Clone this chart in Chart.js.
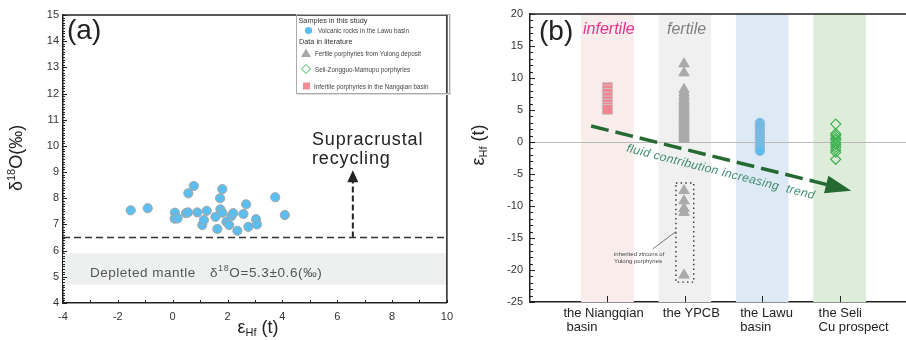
<!DOCTYPE html>
<html>
<head>
<meta charset="utf-8">
<script src="https://cdn.jsdelivr.net/npm/chart.js@4.4.1/dist/chart.umd.min.js"></script>
<style>
  html, body { margin: 0; padding: 0; background: #fff; overflow: hidden; width: 906px; height: 340px; }
  #chartA { position: absolute; left: 0; top: 0; }
  #chartB { position: absolute; left: 460px; top: 0; }
</style>
</head>
<body>
<canvas id="chartA" width="460" height="340"></canvas>
<canvas id="chartB" width="465" height="340"></canvas>
<script>
// ---- panel (a): Lawu volcanic rocks, eHf(t) vs d18O ----
const lawuHf = [-1.53, -0.91, 0.57, 0.77, 0.08, 0.07, 0.18, 0.48, 0.56, 0.90, 1.08, 1.14, 1.24, 1.56, 1.63,
                1.73, 1.81, 1.74, 1.81, 1.96, 2.06, 2.14, 2.21, 2.36, 2.58, 2.68, 2.76, 3.04, 3.07, 3.74, 4.09];
const lawuO  = [7.54, 7.62, 8.19, 8.47, 7.45, 7.22, 7.23, 7.43, 7.46, 7.46, 6.98, 7.17, 7.52, 7.29, 6.83,
                8.00, 8.35, 7.58, 7.45, 7.10, 6.98, 7.32, 7.43, 6.76, 7.40, 7.77, 6.91, 7.20, 7.00, 8.04, 7.36];
const mantleBand = [4.7, 5.9];        // 5.3 +/- 0.6
const mantleCutoff = 6.5;
const recyclingArrow = [6.57, 9.07];  // x, tip y

// ---- panel (b): eHf(t) by setting ----
const categories = [['the Niangqian', 'basin'], ['the YPCB'], ['the Lawu', 'basin'], ['the Seli', 'Cu prospect']];
const niangqianHf = [8.5, 8.1, 7.6, 7.0, 6.4, 5.9, 5.4, 5.1];
const yulongHf = [12.2, 10.8, 8.2, 7.7, 7.3, 6.9, 6.5, 6.2, 5.8, 5.5, 5.2, 4.9, 4.6, 4.3, 4.0, 3.7, 3.4,
                  3.1, 2.8, 2.5, 2.2, 1.9, 1.6, 1.3, 1.0, 0.7, 0.4];
const yulongInheritedHf = [-7.6, -9.2, -10.4, -11.0, -20.8];
const lawuGroupHf = [3.0, 2.6, 2.2, 1.8, 1.5, 1.2, 0.9, 0.6, 0.3, 0.0, -0.3, -0.6, -1.0, -1.4];
const seliHf = [2.8, 1.3, 1.0, 0.6, 0.3, -0.1, -0.4, -0.8, -1.2, -1.6, -2.7];
const trendStart = [0.79, 2.5];
const trendEnd = [4.15, -7.6];
const inheritedBox = [1.885, 2.115, -6.4, -21.9];
const leader = [[1.586, -16.7], [1.885, -14.0]];

const FONT = 'Liberation Sans, Arial, sans-serif';
Chart.defaults.font.family = FONT;
Chart.defaults.color = '#333';

function rich(ctx, parts, x, y, align, spacing) {
  // parts: [text, size, dy, style]
  ctx.letterSpacing = (spacing || 0) + 'px';
  let w = 0;
  parts.forEach(p => { ctx.font = (p[3] || '') + ' ' + p[1] + 'px ' + FONT; w += ctx.measureText(p[0]).width; });
  let cx = align === 'center' ? x - w / 2 : x;
  ctx.textAlign = 'left';
  parts.forEach(p => {
    ctx.font = (p[3] || '') + ' ' + p[1] + 'px ' + FONT;
    ctx.fillText(p[0], cx, y + (p[2] || 0));
    cx += ctx.measureText(p[0]).width;
  });
  ctx.letterSpacing = '0px';
}

function inwardTicksY(ctx, scale, area, from, to, step, len) {
  const n = Math.round((to - from) / step);
  for (let i = 0; i <= n; i++) {
    const y = Math.round(scale.getPixelForValue(from + i * step)) + 0.5;
    ctx.moveTo(area.left, y); ctx.lineTo(area.left + len, y);
  }
}
function inwardTicksX(ctx, scale, area, from, to, step, len) {
  const n = Math.round((to - from) / step);
  for (let i = 0; i <= n; i++) {
    const x = Math.round(scale.getPixelForValue(from + i * step)) + 0.5;
    ctx.moveTo(x, area.bottom); ctx.lineTo(x, area.bottom - len);
  }
}

// ---------------- panel (a) ----------------
const plotA = {
  id: 'plotA',
  beforeDatasetsDraw(chart) {
    const { ctx, chartArea: a, scales: { y } } = chart;
    ctx.save();
    ctx.fillStyle = 'rgb(238,240,240)';
    const top = y.getPixelForValue(mantleBand[1]), bot = y.getPixelForValue(mantleBand[0]);
    ctx.fillRect(a.left, top, a.right - a.left, bot - top);
    ctx.restore();
  },
  afterDraw(chart) {
    const { ctx, chartArea: a, scales: { x, y } } = chart;
    ctx.save();
    // frame top / right
    ctx.strokeStyle = '#222'; ctx.lineWidth = 1.5;
    ctx.beginPath();
    ctx.moveTo(a.left, a.top); ctx.lineTo(a.right, a.top); ctx.lineTo(a.right, a.bottom);
    ctx.stroke();
    // inward ticks
    ctx.lineWidth = 1; ctx.beginPath();
    inwardTicksY(ctx, y, a, 4, 15, 0.1, 2);
    inwardTicksY(ctx, y, a, 4, 15, 1, 4);
    inwardTicksX(ctx, x, a, -4, 10, 1, 3);
    ctx.stroke();
    // arrow head
    const px = x.getPixelForValue(recyclingArrow[0]), py = y.getPixelForValue(recyclingArrow[1]);
    ctx.fillStyle = '#222';
    ctx.beginPath();
    ctx.moveTo(px, py); ctx.lineTo(px - 5.5, py + 12); ctx.lineTo(px + 5.5, py + 12); ctx.closePath();
    ctx.fill();
    // labels
    ctx.fillStyle = '#222';
    ctx.textBaseline = 'alphabetic';
    rich(ctx, [['(a)', 28]], 67, 39);
    rich(ctx, [['Supracrustal', 18]], 312, 145, null, 0.85);
    rich(ctx, [['recycling', 18]], 312, 164, null, 0.85);
    ctx.fillStyle = '#555';
    rich(ctx, [['Depleted mantle', 13.5]], 90, 277, null, 0.5);
    rich(ctx, [['\u03b4', 13.5], ['18', 9, -6], ['O=5.3\u00b10.6(\u2030)', 13.5]], 210, 277, null, 0.6);
    // axis titles
    ctx.fillStyle = '#222';
    rich(ctx, [['\u03b5', 18], ['Hf', 11, 3], [' (t)', 18]], 258, 333, 'center');
    ctx.translate(22, 158); ctx.rotate(-Math.PI / 2);
    rich(ctx, [['\u03b4', 18], ['18', 11, -7], ['O(\u2030)', 18]], 0, 0, 'center');
    ctx.restore();

    // legend
    ctx.save();
    ctx.strokeStyle = '#aaa'; ctx.lineWidth = 1;
    ctx.strokeRect(296.5, 14.5, 153, 79);
    ctx.strokeStyle = '#ddd';
    ctx.beginPath(); ctx.moveTo(297, 94.5); ctx.lineTo(450.5, 94.5); ctx.lineTo(450.5, 15); ctx.stroke();
    ctx.fillStyle = '#333';
    rich(ctx, [['Samples in this study', 7.3]], 298.5, 22.5);
    rich(ctx, [['Data in literature', 7.3]], 299, 44);
    ctx.fillStyle = '#444';
    rich(ctx, [['Volcanic rocks in the Lawu basin', 6.3]], 318, 33);
    rich(ctx, [['Fertile porphyries from Yulong deposit', 6.3]], 315, 56);
    rich(ctx, [['Seli-Zongguo-Mamupu porphyries', 6.3]], 315, 71.5);
    rich(ctx, [['Infertile porphyries in the Nangqian basin', 6.3]], 314, 88.5);
    ctx.fillStyle = 'rgb(92,190,238)';
    ctx.beginPath(); ctx.arc(308.5, 30.5, 3.6, 0, Math.PI * 2); ctx.fill();
    ctx.fillStyle = 'rgb(168,168,168)';
    ctx.beginPath(); ctx.moveTo(306, 48.5); ctx.lineTo(311, 57); ctx.lineTo(301, 57); ctx.closePath(); ctx.fill();
    ctx.strokeStyle = 'rgb(60,180,80)'; ctx.lineWidth = 1;
    ctx.beginPath(); ctx.moveTo(306, 64.5); ctx.lineTo(310.5, 69); ctx.lineTo(306, 73.5); ctx.lineTo(301.5, 69); ctx.closePath(); ctx.stroke();
    ctx.fillStyle = 'rgb(242,140,150)';
    ctx.fillRect(303, 82.5, 7, 7);
    ctx.restore();
  }
};

new Chart(document.getElementById('chartA'), {
  type: 'scatter',
  data: {
    datasets: [
      {
        label: 'Volcanic rocks in the Lawu basin',
        data: lawuHf.map((v, i) => ({ x: v, y: lawuO[i] })),
        backgroundColor: 'rgb(92,190,238)',
        borderColor: 'rgb(165,165,165)',
        borderWidth: 1,
        pointRadius: 4.6
      },
      {
        type: 'line',
        data: [{ x: -4, y: mantleCutoff }, { x: 10, y: mantleCutoff }],
        borderColor: '#333', borderWidth: 1.5, borderDash: [7, 4], pointRadius: 0
      },
      {
        type: 'line',
        data: [{ x: recyclingArrow[0], y: mantleCutoff }, { x: recyclingArrow[0], y: 8.65 }],
        borderColor: '#222', borderWidth: 2, borderDash: [6, 3], pointRadius: 0
      }
    ]
  },
  options: {
    responsive: false,
    animation: false,
    layout: { padding: { top: 15, right: 9, left: 0, bottom: 0 } },
    plugins: { legend: { display: false }, tooltip: { enabled: false } },
    scales: {
      x: {
        type: 'linear', min: -4, max: 10,
        ticks: { stepSize: 2, padding: 7, color: '#333', font: { size: 11 } },
        grid: { display: false, drawTicks: false },
        border: { color: '#222', width: 1.5 },
        afterFit: s => { s.height = 37; }
      },
      y: {
        min: 4, max: 15,
        ticks: { stepSize: 1, padding: 4, color: '#333', font: { size: 11 } },
        grid: { display: false, drawTicks: false },
        border: { color: '#222', width: 1.5 },
        afterFit: s => { s.width = 63; }
      }
    }
  },
  plugins: [plotA]
});

// ---------------- panel (b) ----------------
const bandColors = ['rgb(249,237,236)', 'rgb(240,240,240)', 'rgb(221,233,244)', 'rgb(222,236,218)'];
const labelShift = [[-44, -41], [-22], [-22, -22], [-21, -21]];
const trendHeadFrac = 0.915;
const trendBase = [trendStart[0] + trendHeadFrac * (trendEnd[0] - trendStart[0]),
                   trendStart[1] + trendHeadFrac * (trendEnd[1] - trendStart[1])];

const plotB = {
  id: 'plotB',
  beforeDatasetsDraw(chart) {
    const { ctx, chartArea: a, scales: { x, y } } = chart;
    ctx.save();
    categories.forEach((c, i) => {
      const l = x.getPixelForValue(i + 1 - 0.34), r = x.getPixelForValue(i + 1 + 0.34);
      ctx.fillStyle = bandColors[i];
      ctx.fillRect(l, a.top, r - l, a.bottom - a.top);
    });
    const zy = Math.round(y.getPixelForValue(0)) + 0.5;
    ctx.strokeStyle = 'rgb(185,185,185)'; ctx.lineWidth = 1;
    ctx.beginPath(); ctx.moveTo(a.left, zy); ctx.lineTo(a.right, zy); ctx.stroke();
    // text along trend
    ctx.translate(x.getPixelForValue(1.24), y.getPixelForValue(-1.5));
    ctx.rotate(14.2 * Math.PI / 180);
    ctx.fillStyle = 'rgb(62,140,108)';
    ctx.font = 'italic 12px ' + FONT;
    ctx.letterSpacing = '0.4px';
    ctx.textAlign = 'left';
    ctx.fillText('fluid contribution increasing  trend', 0, 0);
    ctx.restore();
  },
  afterDraw(chart) {
    const { ctx, chartArea: a, scales: { x, y } } = chart;
    ctx.save();
    ctx.strokeStyle = '#222'; ctx.lineWidth = 1.5;
    ctx.beginPath(); ctx.moveTo(a.left, a.top); ctx.lineTo(a.right, a.top); ctx.stroke();
    ctx.lineWidth = 1; ctx.beginPath();
    inwardTicksY(ctx, y, a, -25, 20, 1, 3);
    inwardTicksY(ctx, y, a, -25, 20, 5, 5);
    inwardTicksX(ctx, x, a, 1, 4, 1, 6);
    ctx.stroke();
    // trend arrow head
    const bx = x.getPixelForValue(trendBase[0]), by = y.getPixelForValue(trendBase[1]);
    const tx = x.getPixelForValue(trendEnd[0]), ty = y.getPixelForValue(trendEnd[1]);
    const ang = Math.atan2(ty - by, tx - bx);
    const hw = 9;
    ctx.fillStyle = 'rgb(36,106,50)';
    ctx.beginPath();
    ctx.moveTo(tx, ty);
    ctx.lineTo(bx - 3 * Math.cos(ang) + hw * Math.sin(ang), by - 3 * Math.sin(ang) - hw * Math.cos(ang));
    ctx.lineTo(bx - 3 * Math.cos(ang) - hw * Math.sin(ang), by - 3 * Math.sin(ang) + hw * Math.cos(ang));
    ctx.closePath(); ctx.fill();
    // category labels
    ctx.fillStyle = '#222';
    categories.forEach((lines, i) => {
      const px = x.getPixelForValue(i + 1);
      lines.forEach((t, j) => rich(ctx, [[t, 13]], px + labelShift[i][j], 317 + j * 13.5));
    });
    // annotations
    rich(ctx, [['(b)', 28]], 79, 40);
    ctx.font = 'italic 16px ' + FONT;
    ctx.fillStyle = 'rgb(232,48,140)';
    ctx.fillText('infertile', 123, 34);
    ctx.fillStyle = 'rgb(128,128,128)';
    ctx.fillText('fertile', 207, 34);
    ctx.fillStyle = '#444';
    rich(ctx, [['inherited zircons of', 6]], 154, 256);
    rich(ctx, [['Yulong porphyries', 6]], 154, 263);
    ctx.fillStyle = '#222';
    ctx.translate(24, 145); ctx.rotate(-Math.PI / 2);
    rich(ctx, [['\u03b5', 18], ['Hf', 11, 3], [' (t)', 18]], 0, 0, 'center');
    ctx.restore();
  }
};

const pts = (vals, xv) => vals.map(v => ({ x: xv, y: v }));

new Chart(document.getElementById('chartB'), {
  type: 'scatter',
  data: {
    datasets: [
      { data: pts(niangqianHf, 1), pointStyle: 'rect', pointRadius: 7,
        backgroundColor: 'rgb(242,132,144)', borderColor: 'rgb(205,190,192)', borderWidth: 1 },
      { data: pts(yulongHf, 1.99), pointStyle: 'triangle', pointRadius: 6,
        backgroundColor: 'rgb(170,170,170)', borderColor: 'rgb(170,170,170)', borderWidth: 1 },
      { data: pts(yulongInheritedHf, 1.99), pointStyle: 'triangle', pointRadius: 6,
        backgroundColor: 'rgb(170,170,170)', borderColor: 'rgb(170,170,170)', borderWidth: 1 },
      { data: pts(lawuGroupHf, 2.97), pointStyle: 'circle', pointRadius: 4.6,
        backgroundColor: 'rgb(92,188,238)', borderColor: 'rgb(150,185,215)', borderWidth: 1 },
      { data: pts(seliHf, 3.95), pointStyle: 'rectRot', pointRadius: 5,
        backgroundColor: 'rgba(255,255,255,0)', borderColor: 'rgb(60,178,78)', borderWidth: 1.2 },
      { type: 'line', data: [{ x: trendStart[0], y: trendStart[1] }, { x: trendBase[0], y: trendBase[1] }],
        borderColor: 'rgb(36,106,50)', borderWidth: 3.5, borderDash: [18, 7], pointRadius: 0 },
      { type: 'line',
        data: [{ x: inheritedBox[0], y: inheritedBox[2] }, { x: inheritedBox[1], y: inheritedBox[2] },
               { x: inheritedBox[1], y: inheritedBox[3] }, { x: inheritedBox[0], y: inheritedBox[3] },
               { x: inheritedBox[0], y: inheritedBox[2] }],
        borderColor: '#333', borderWidth: 1.4, borderDash: [1.5, 3.2], pointRadius: 0 },
      { type: 'line', data: [{ x: leader[0][0], y: leader[0][1] }, { x: leader[1][0], y: leader[1][1] }],
        borderColor: '#555', borderWidth: 0.8, pointRadius: 0 }
    ]
  },
  options: {
    responsive: false,
    animation: false,
    layout: { padding: { top: 14, right: 6, left: 0, bottom: 0 } },
    plugins: { legend: { display: false }, tooltip: { enabled: false } },
    scales: {
      x: {
        type: 'linear', min: 0, max: 5,
        ticks: { display: false },
        grid: { display: false, drawTicks: false },
        border: { color: '#222', width: 1.5 },
        afterFit: s => { s.height = 38; }
      },
      y: {
        min: -25, max: 20,
        ticks: { stepSize: 5, padding: 7, color: '#333', font: { size: 11 } },
        grid: { display: false, drawTicks: false },
        border: { color: '#222', width: 1.5 },
        afterFit: s => { s.width = 70; }
      }
    }
  },
  plugins: [plotB]
});
</script>
</body>
</html>
